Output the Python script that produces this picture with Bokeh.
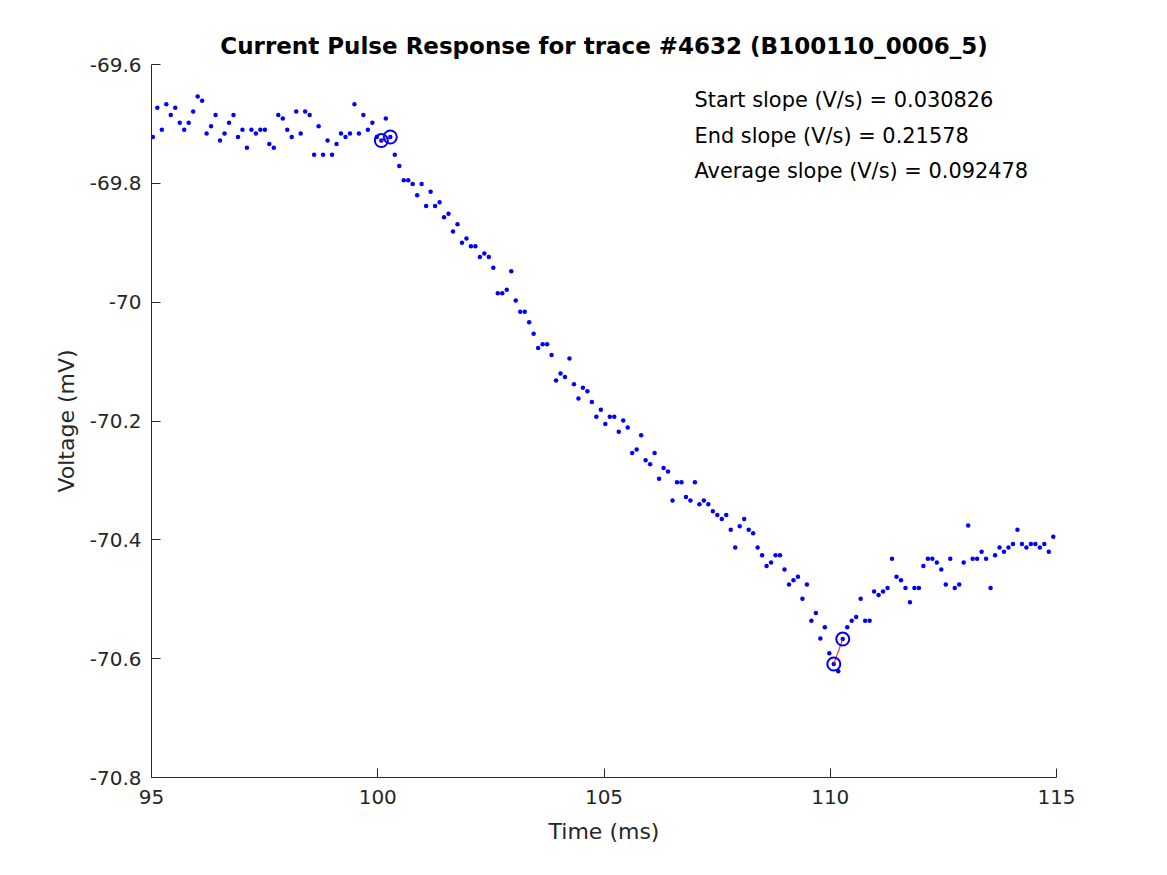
from bokeh.plotting import figure
from bokeh.models import FixedTicker, Range1d, ColumnDataSource
from bokeh.core.properties import value
from bokeh.embed import file_html
from bokeh.resources import INLINE
import numpy as np

# ---- data ----
TITLE = "Current Pulse Response for trace #4632 (B100110_0006_5)"
X_LABEL = "Time (ms)"
Y_LABEL = "Voltage (mV)"

# sampling of the trace
T_START = 95.03      # ms, first sample
T_STEP = 0.099       # ms, sample interval

voltage = [
    -69.722, -69.673, -69.710, -69.667, -69.685, -69.673, -69.698, -69.710, -69.698, -69.679,
    -69.654, -69.661, -69.716, -69.704, -69.685, -69.728, -69.716, -69.698, -69.685, -69.722,
    -69.710, -69.740, -69.710, -69.716, -69.710, -69.710, -69.734, -69.740, -69.685, -69.691,
    -69.710, -69.722, -69.679, -69.716, -69.679, -69.685, -69.752, -69.704, -69.752, -69.728,
    -69.752, -69.734, -69.716, -69.722, -69.716, -69.667, -69.716, -69.685, -69.710, -69.698,
    -69.722, -69.728, -69.691, -69.722, -69.752, -69.771, -69.795, -69.795, -69.801, -69.820,
    -69.801, -69.838, -69.814, -69.838, -69.832, -69.857, -69.851, -69.881, -69.869, -69.900,
    -69.893, -69.906, -69.906, -69.924, -69.918, -69.924, -69.942, -69.985, -69.985, -69.979,
    -69.948, -69.997, -70.016, -70.016, -70.034, -70.053, -70.077, -70.071, -70.071, -70.089,
    -70.132, -70.120, -70.126, -70.095, -70.138, -70.162, -70.144, -70.150, -70.168, -70.193,
    -70.181, -70.205, -70.193, -70.193, -70.218, -70.199, -70.211, -70.254, -70.248, -70.224,
    -70.266, -70.273, -70.254, -70.297, -70.279, -70.285, -70.334, -70.303, -70.303, -70.328,
    -70.334, -70.303, -70.340, -70.334, -70.340, -70.352, -70.358, -70.365, -70.358, -70.383,
    -70.413, -70.377, -70.365, -70.383, -70.389, -70.413, -70.426, -70.444, -70.438, -70.426,
    -70.426, -70.450, -70.475, -70.468, -70.462, -70.499, -70.475, -70.536, -70.523, -70.566,
    -70.547, -70.591, -70.609, -70.621, -70.567, -70.547, -70.536, -70.530, -70.499, -70.536,
    -70.536, -70.487, -70.493, -70.487, -70.481, -70.432, -70.462, -70.468, -70.481, -70.505,
    -70.481, -70.481, -70.444, -70.432, -70.432, -70.438, -70.450, -70.475, -70.432, -70.481,
    -70.475, -70.438, -70.376, -70.432, -70.432, -70.420, -70.432, -70.481, -70.426, -70.413,
    -70.420, -70.413, -70.407, -70.383, -70.407, -70.413, -70.407, -70.407, -70.413, -70.407,
    -70.420, -70.395,
]

# indices of the samples used for the slope estimates
start_slope_idx = [51, 53]
end_slope_idx = [152, 154]

slope_texts = [
    "Start slope (V/s) = 0.030826",
    "End slope (V/s) = 0.21578",
    "Average slope (V/s) = 0.092478",
]
slope_text_x = [107.0, 107.0, 107.0]
slope_text_y = [-69.66, -69.72, -69.78]

x_ticks = [95, 100, 105, 110, 115]
x_tick_labels = ["95", "100", "105", "110", "115"]
y_ticks = [-70.8, -70.6, -70.4, -70.2, -70.0, -69.8, -69.6]
y_tick_labels = ["-70.8", "-70.6", "-70.4", "-70.2", "-70", "-69.8", "-69.6"]

# ---- build ----
time = np.round(T_START + T_STEP * np.arange(len(voltage)), 4)
volt = np.array(voltage)

FONT = "DejaVu Sans"
AX_COL = "#262626"

p = figure(
    frame_width=905, frame_height=713,
    x_range=Range1d(95, 115), y_range=Range1d(-70.8, -69.6),
    output_backend="svg", toolbar_location=None,
    min_border_left=151, min_border_right=100, min_border_top=64, min_border_bottom=88,
    title=TITLE,
)
p.background_fill_color = "white"
p.border_fill_color = "white"
p.outline_line_color = None
p.xgrid.visible = False
p.ygrid.visible = False

p.title.align = "center"
p.title.text_font = FONT
p.title.text_font_style = "bold"
p.title.text_font_size = "23px"
p.title.text_color = "black"
p.title.standoff = 12

for ax in (p.xaxis[0], p.yaxis[0]):
    ax.axis_line_color = AX_COL
    ax.axis_line_width = 1
    ax.major_tick_line_color = AX_COL
    ax.major_tick_in = 9
    ax.major_tick_out = 0
    ax.minor_tick_line_color = None
    ax.major_label_text_font = FONT
    ax.major_label_text_font_size = "20px"
    ax.major_label_text_color = AX_COL
    ax.axis_label_text_font = FONT
    ax.axis_label_text_font_size = "22px"
    ax.axis_label_text_font_style = "normal"
    ax.axis_label_text_color = AX_COL

p.xaxis.ticker = FixedTicker(ticks=x_ticks)
p.xaxis.major_label_overrides = dict(zip(x_ticks, x_tick_labels))
p.yaxis.ticker = FixedTicker(ticks=y_ticks)
p.yaxis.major_label_overrides = dict(zip(y_ticks, y_tick_labels))
p.xaxis.axis_label = X_LABEL
p.yaxis.axis_label = Y_LABEL
p.xaxis.major_label_standoff = 12
p.yaxis.major_label_standoff = 10
p.xaxis.axis_label_standoff = 12
p.yaxis.axis_label_standoff = 8

# trace dots
src = ColumnDataSource(dict(t=time, v=volt))
p.scatter("t", "v", source=src, marker="circle", size=4.5, fill_color="#0000FF", line_color=None)

# slope markers
for idx in (start_slope_idx, end_slope_idx):
    tt = time[idx]
    vv = volt[idx]
    p.line(tt, vv, line_color="#FF0000", line_width=1)
    p.scatter(tt, vv, marker="circle", size=13, fill_color=None, line_color="#0000FF", line_width=2)

# annotations
p.text(x=slope_text_x, y=slope_text_y, text=slope_texts,
       text_font=value(FONT), text_font_size="20.9px", text_color="black",
       text_align="left", text_baseline="middle")

open("out.html", "w").write(file_html(p, INLINE))
